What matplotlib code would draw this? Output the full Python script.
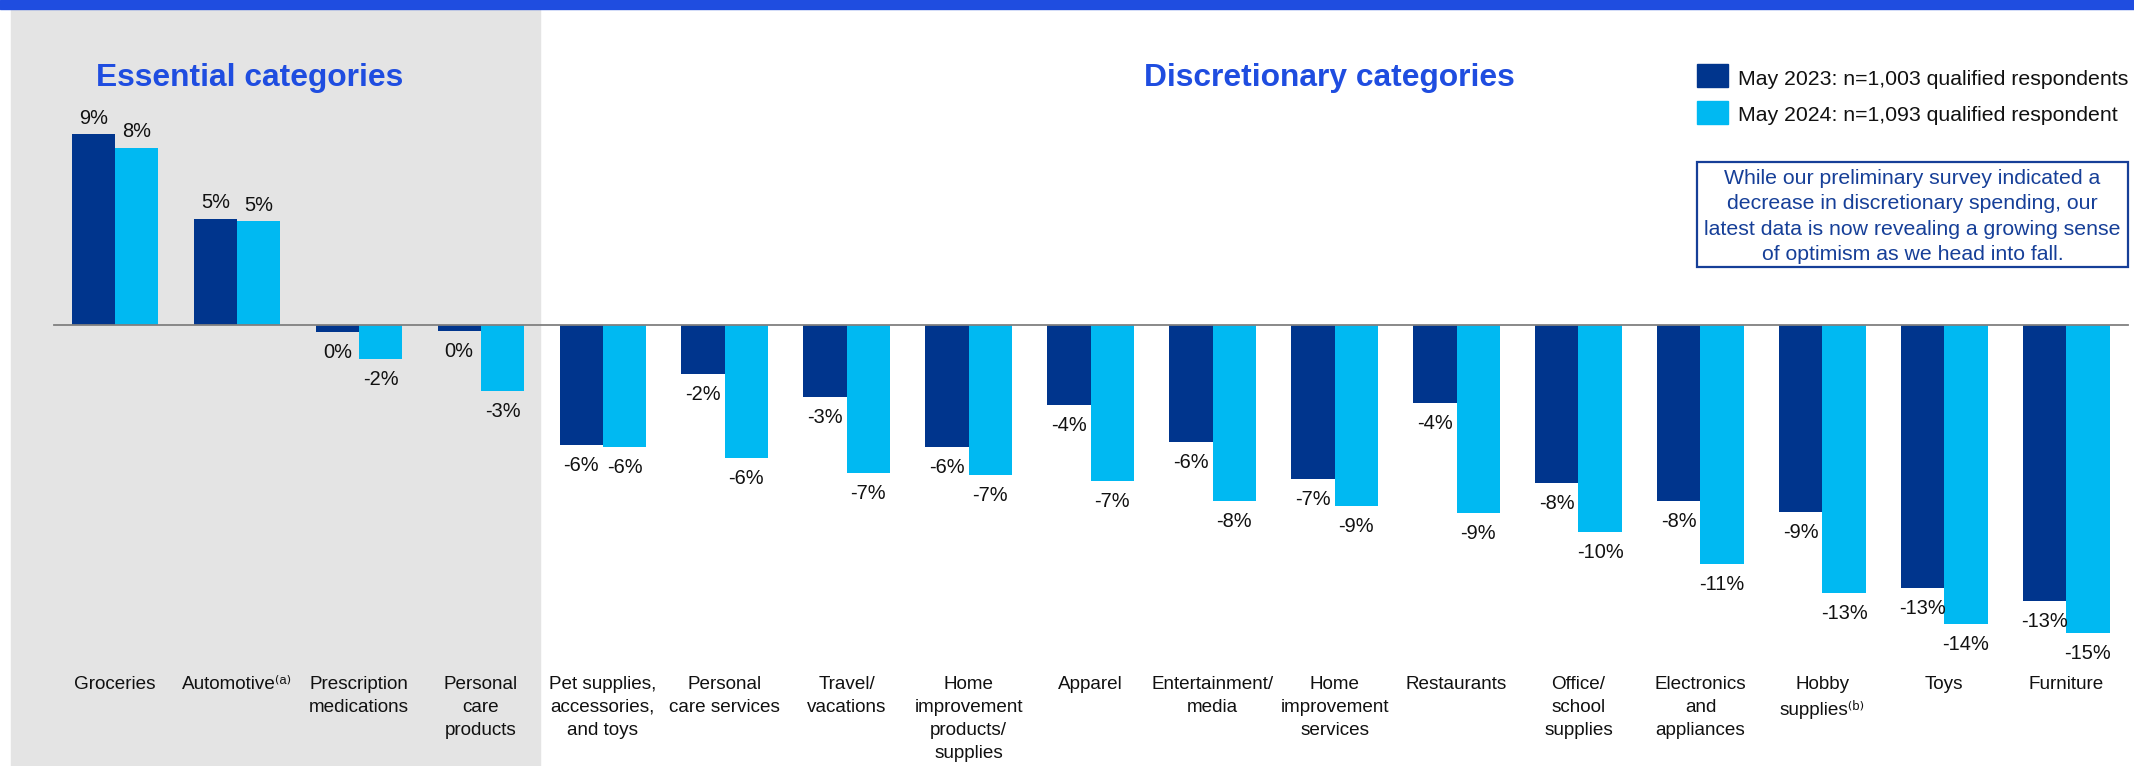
import matplotlib
matplotlib.use("Agg")
import matplotlib.pyplot as plt
from matplotlib.patches import Rectangle

plt.rcParams['font.family'] = ['Liberation Sans', 'DejaVu Sans']

categories = [
    "Groceries", "Automotive\u207d\u1d43\u207e", "Prescription\nmedications",
    "Personal\ncare\nproducts", "Pet supplies,\naccessories,\nand toys",
    "Personal\ncare services", "Travel/\nvacations",
    "Home\nimprovement\nproducts/\nsupplies", "Apparel",
    "Entertainment/\nmedia", "Home\nimprovement\nservices", "Restaurants",
    "Office/\nschool\nsupplies", "Electronics\nand\nappliances",
    "Hobby\nsupplies\u207d\u1d47\u207e", "Toys", "Furniture",
]
may2023 = [9.08, 5.05, -0.32, -0.29, -5.71, -2.33, -3.41, -5.80, -3.82,
           -5.59, -7.32, -3.73, -7.54, -8.37, -8.89, -12.54, -13.13]
may2024 = [8.44, 4.94, -1.63, -3.13, -5.82, -6.32, -7.05, -7.13, -7.41,
           -8.37, -8.63, -8.94, -9.87, -11.38, -12.78, -14.22, -14.65]
series_names = ["May 2023: n=1,003 qualified respondents",
                "May 2024: n=1,093 qualified respondent"]
note = ("While our preliminary survey indicated a\n"
        "decrease in discretionary spending, our\n"
        "latest data is now revealing a growing sense\n"
        "of optimism as we head into fall.")

DARK = "#00358d"
LIGHT = "#00b9f2"
BRIGHT = "#1f4de0"
NAVY = "#163f98"

W, H = 2134, 766
fig = plt.figure(figsize=(W / 100, H / 100), dpi=100)


def fx(px):
    return px / W


def fy(py):
    return 1 - py / H


# background panels
fig.patches.append(Rectangle((fx(11), 0), fx(540) - fx(11), fy(9),
                             transform=fig.transFigure, color="#e4e4e4", zorder=-5))
fig.patches.append(Rectangle((0, fy(9)), 1, 1 - fy(9),
                             transform=fig.transFigure, color=BRIGHT, zorder=-5))

ax = fig.add_axes([0, 0, 1, 1])
ax.set_facecolor("none")
ax.axis("off")
ax.set_xlim(-0.943, 16.555)
ax.set_ylim(-21.0, 15.476)

x = list(range(len(categories)))
w = 0.355
ax.bar([i - w / 2 for i in x], may2023, w, color=DARK, label=series_names[0])
ax.bar([i + w / 2 for i in x], may2024, w, color=LIGHT, label=series_names[1])
ax.axhline(0, xmin=0.0255, xmax=0.997, color="#808080", lw=1.3, zorder=3)

for vals, dx in ((may2023, -w / 2), (may2024, w / 2)):
    for i, v in enumerate(vals):
        off = 7.6 if v >= 0 else -18.8
        ax.annotate(f"{round(v)}%", (i + dx, v), xytext=(0, off),
                    textcoords="offset points", ha="center", va="baseline",
                    fontsize=14.4, color="#111111")

for i, c in enumerate(categories):
    ax.text(i, fy(676), c, transform=ax.get_xaxis_transform(), ha="center",
            va="top", fontsize=13.6, color="#111111", linespacing=1.45)

fig.text(fx(250), fy(86), "Essential categories", ha="center", va="baseline",
         fontsize=22.9, fontweight="bold", color=BRIGHT)
fig.text(fx(1329), fy(86), "Discretionary categories", ha="center", va="baseline",
         fontsize=22.9, fontweight="bold", color=BRIGHT)

# legend
for col, top, base, name in ((DARK, 64, 85, series_names[0]),
                             (LIGHT, 101, 120.7, series_names[1])):
    fig.patches.append(Rectangle((fx(1697), fy(top + 23)), fx(31), 23 / H,
                                 transform=fig.transFigure, color=col))
    fig.text(fx(1738), fy(base), name, ha="left", va="baseline",
             fontsize=15.3, color="#111111")

# note box
fig.patches.append(Rectangle((fx(1697), fy(266.5)), fx(431), 105 / H,
                             transform=fig.transFigure, fill=False,
                             edgecolor=NAVY, lw=1.6))
fig.text(fx(1912.5), fy(169), note, ha="center", va="top",
         fontsize=15.3, color=NAVY, linespacing=1.43)

fig.savefig("out.png", dpi=100)
